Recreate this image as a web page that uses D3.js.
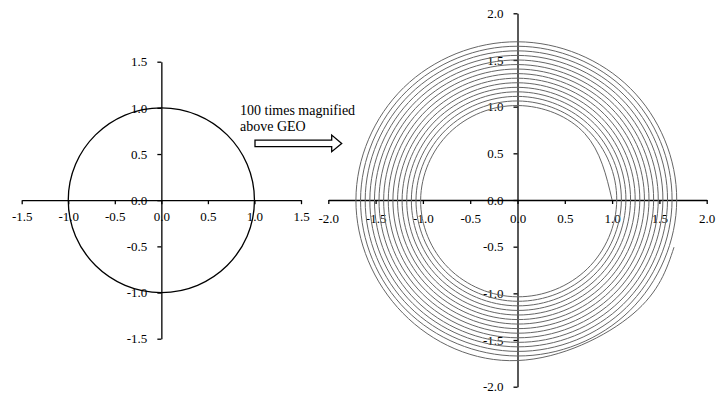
<!DOCTYPE html>
<html><head><meta charset="utf-8">
<script src="https://cdn.jsdelivr.net/npm/d3@7/dist/d3.min.js"></script>
<style>body{margin:0;background:#fff}svg{display:block}</style>
</head><body>
<svg id="chart" width="717" height="394"></svg>
<script>
// ---------- data ----------
const leftTicks  = [-1.5, -1.0, -0.5, 0.0, 0.5, 1.0, 1.5];
const rightTicks = [-2.0, -1.5, -1.0, -0.5, 0.0, 0.5, 1.0, 1.5, 2.0];

// GEO orbit (unit circle), points at 0, 90, 180, 270 degrees
const circleX = [1, 0, -1, 0];
const circleY = [0, 1, 0, -1];

// magnified spiral: radius read every 45 degrees (counter-clockwise from +x), one row per turn
const spiralStepDeg = 45;
const spiralRadius = [
  1.000, 1.006, 1.012, 1.018, 1.024, 1.031, 1.037, 1.043,
  1.049, 1.055, 1.061, 1.067, 1.073, 1.079, 1.085, 1.092,
  1.098, 1.104, 1.110, 1.116, 1.122, 1.128, 1.134, 1.140,
  1.146, 1.153, 1.159, 1.165, 1.171, 1.177, 1.183, 1.189,
  1.195, 1.201, 1.207, 1.214, 1.220, 1.226, 1.232, 1.238,
  1.244, 1.250, 1.256, 1.262, 1.268, 1.275, 1.281, 1.287,
  1.293, 1.299, 1.305, 1.311, 1.317, 1.323, 1.329, 1.336,
  1.342, 1.348, 1.354, 1.360, 1.366, 1.372, 1.378, 1.384,
  1.390, 1.397, 1.403, 1.409, 1.415, 1.421, 1.427, 1.433,
  1.439, 1.445, 1.451, 1.458, 1.464, 1.470, 1.476, 1.482,
  1.488, 1.494, 1.500, 1.506, 1.512, 1.519, 1.525, 1.531,
  1.537, 1.543, 1.549, 1.555, 1.561, 1.567, 1.573, 1.580,
  1.586, 1.592, 1.598, 1.604, 1.610, 1.616, 1.622, 1.628,
  1.634, 1.641, 1.647, 1.653, 1.659, 1.665, 1.671, 1.677,
  1.683, 1.689, 1.695, 1.702, 1.708, 1.714, 1.720, 1.726
];
const spiralEndAngleDeg = 343;   // angle of the last point within the final turn
const spiralEndRadius = 1.730;

const annotationLines = ["100 times magnified", "above GEO"];

// ---------- drawing ----------
const svg = d3.select("#chart");
const FONT = "'Liberation Serif', 'Times New Roman', serif";
const fmt = d => d.toFixed(1);

function drawAxes(g, x, y, ticks, xPad, yPad) {
  const ax = d3.axisBottom(x).tickValues(ticks).tickSize(4).tickSizeOuter(0).tickPadding(xPad).tickFormat(fmt);
  const ay = d3.axisLeft(y).tickValues(ticks).tickSize(4).tickSizeOuter(0).tickPadding(yPad).tickFormat(fmt);
  const gx = g.append("g").attr("transform", `translate(0,${y(0)})`).call(ax);
  const gy = g.append("g").attr("transform", `translate(${x(0)},0)`).call(ay);
  [gx, gy].forEach(a => {
    a.select(".domain").attr("stroke", "#000").attr("stroke-width", 1.3);
    a.selectAll(".tick line").attr("stroke", "#000").attr("stroke-width", 1.3);
    a.selectAll(".tick text").attr("fill", "#000").style("font-family", FONT).style("font-size", "13px");
  });
}

// left chart
const xL = d3.scaleLinear().domain([-1.5, 1.5]).range([21.7, 301]);
const yL = d3.scaleLinear().domain([-1.5, 1.5]).range([338.7, 61.7]);
const gL = svg.append("g");
drawAxes(gL, xL, yL, leftTicks, 8, 10);
const circlePts = circleX.map((cx, i) => [cx, circleY[i]]);
gL.append("path")
  .attr("d", d3.line().x(d => xL(d[0])).y(d => yL(d[1])).curve(d3.curveCardinalClosed.tension(-0.6569))(circlePts))
  .attr("fill", "none").attr("stroke", "#000").attr("stroke-width", 1.3);

// right chart
const xR = d3.scaleLinear().domain([-2, 2]).range([328.3, 706.7]);
const yR = d3.scaleLinear().domain([-2, 2]).range([386.7, 13.3]);
const gR = svg.append("g");
drawAxes(gR, xR, yR, rightTicks, 9.5, 10);
const turns = Math.floor(spiralRadius.length * spiralStepDeg / 360);
const spiralPts = spiralRadius.map((r, i) => {
  const a = i * spiralStepDeg * Math.PI / 180;
  return [r * Math.cos(a), r * Math.sin(a)];
});
{
  const a = ((turns - 1) * 360 + spiralEndAngleDeg) * Math.PI / 180;
  spiralPts.push([spiralEndRadius * Math.cos(a), spiralEndRadius * Math.sin(a)]);
}
gR.append("path")
  .attr("d", d3.line().x(d => xR(d[0])).y(d => yR(d[1])).curve(d3.curveNatural)(spiralPts))
  .attr("fill", "none").attr("stroke", "#666").attr("stroke-width", 1);

// annotation
const ann = svg.append("g").style("font-family", FONT).style("font-size", "14px").attr("fill", "#000");
annotationLines.forEach((t, i) => ann.append("text").attr("x", 240).attr("y", 114.5 + i * 16).text(t));

// hollow block arrow
const ax0 = 255, ax1 = 331.7, tip = 341.7, cy = 143.4, sh = 3.3, hh = 8.3;
svg.append("path")
  .attr("d", d3.line()([[ax0, cy - sh], [ax1, cy - sh], [ax1, cy - hh], [tip, cy], [ax1, cy + hh], [ax1, cy + sh], [ax0, cy + sh]]) + "Z")
  .attr("fill", "#fff").attr("stroke", "#000").attr("stroke-width", 1.3);
</script>
</body></html>
